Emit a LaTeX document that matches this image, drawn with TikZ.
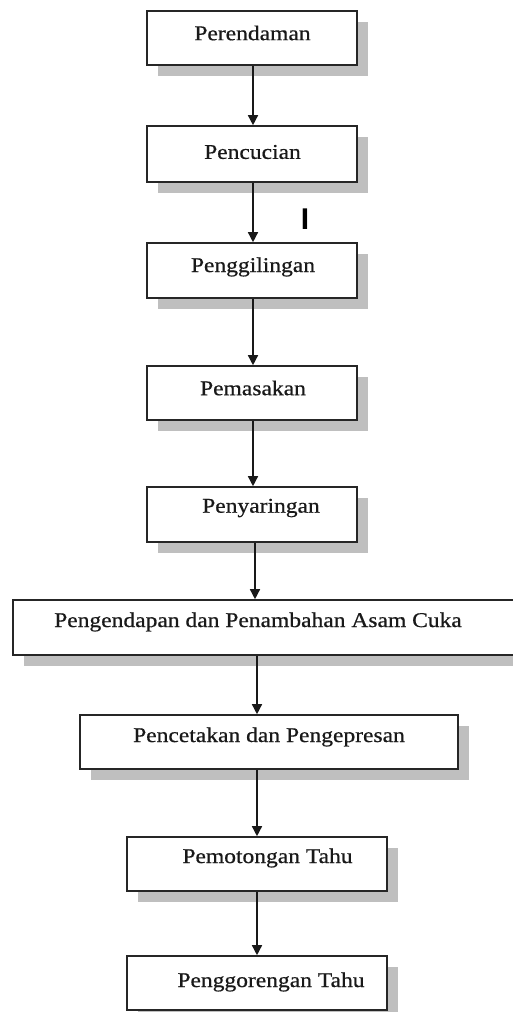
\documentclass[tikz,border=0pt]{standalone}
\usepackage{fontspec}
\setmainfont{Liberation Serif}[FakeStretch=1.12,FakeBold=0.6]
\newfontfamily\markfont{Liberation Sans}
\usetikzlibrary{shadows,arrows.meta}
\begin{document}
\begin{tikzpicture}[x=1pt,y=1pt,
  box/.style={draw=black!85, line width=1.6pt, fill=white, inner sep=0pt,
    drop shadow={shadow xshift=10.5pt, shadow yshift=-11pt, fill=black!25, opacity=1}},
  lbl/.style={inner sep=0pt, font=\fontsize{21}{24}\selectfont, text=black!90},
  arr/.style={draw=black!90, line width=1.4pt, -{Triangle[length=10pt,width=10pt]}}]
\useasboundingbox (0,0) rectangle (513,-1012);
% boxes
\node[box, minimum width=210pt, minimum height=54pt] (b1) at (252,-38) {};
\node[box, minimum width=210pt, minimum height=56pt] (b2) at (252,-154) {};
\node[box, minimum width=210pt, minimum height=55pt] (b3) at (252,-270.5) {};
\node[box, minimum width=210pt, minimum height=54pt] (b4) at (252,-393) {};
\node[box, minimum width=210pt, minimum height=55pt] (b5) at (252,-514.5) {};
\node[box, minimum width=520pt, minimum height=55pt] (b6) at (273,-627.5) {};
\node[box, minimum width=378pt, minimum height=54pt] (b7) at (269,-742) {};
\node[box, minimum width=260pt, minimum height=54pt] (b8) at (257,-864) {};
\node[box, minimum width=260pt, minimum height=54pt] (b9) at (257,-983) {};
% labels
\node[lbl] (t1) at (252.5,-33) {Perendaman};
\node[lbl] (t2) at (252.5,-152) {Pencucian};
\node[lbl] (t3) at (253,-267) {Penggilingan};
\node[lbl] (t4) at (253,-388) {Pemasakan};
\node[lbl] (t5) at (261,-508) {Penyaringan};
\node[lbl] (t6) at (258,-622) {Pengendapan dan Penambahan Asam Cuka};
\node[lbl] (t7) at (269,-737) {Pencetakan dan Pengepresan};
\node[lbl] (t8) at (267.5,-858) {Pemotongan Tahu};
\node[lbl] (t9) at (271,-982) {Penggorengan Tahu};
% stray mark
\node[inner sep=0pt, font=\markfont\bfseries\fontsize{30}{30}\selectfont] (m) at (305,-219) {I};
% connectors
\coordinate (xa) at (253,0);
\coordinate (xb) at (255,0);
\coordinate (xc) at (257,0);
\draw[arr] (b1.south -| xa) -- (b2.north -| xa);
\draw[arr] (b2.south -| xa) -- (b3.north -| xa);
\draw[arr] (b3.south -| xa) -- (b4.north -| xa);
\draw[arr] (b4.south -| xa) -- (b5.north -| xa);
\draw[arr] (b5.south -| xb) -- (b6.north -| xb);
\draw[arr] (b6.south -| xc) -- (b7.north -| xc);
\draw[arr] (b7.south -| xc) -- (b8.north -| xc);
\draw[arr] (b8.south) -- (b9.north);
\end{tikzpicture}
\end{document}
